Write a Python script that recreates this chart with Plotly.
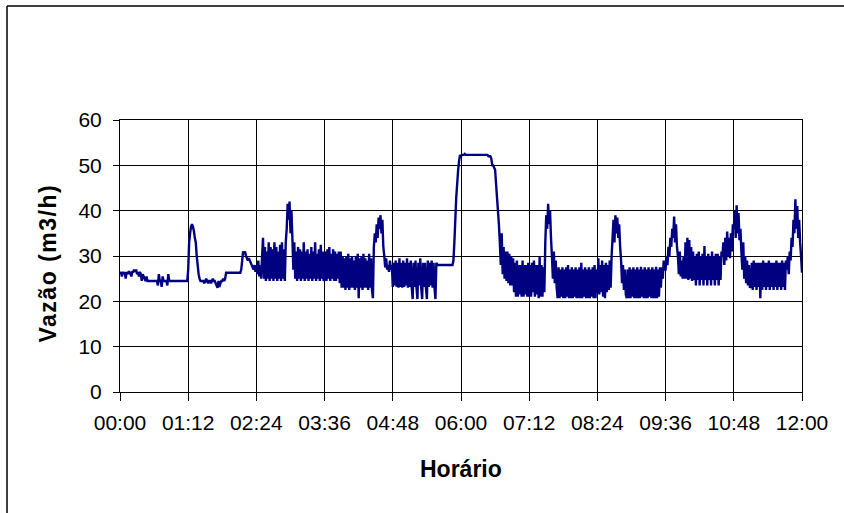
import plotly.graph_objects as go

# Flow readings, one value per minute, grouped by 72-minute windows (m3/h)
seg_0000 = [26, 26.5, 25.5, 26.5, 26, 26.5, 25, 26.5, 26, 26.5, 26.5, 26, 25.5, 26.5, 26.5,
            27, 26.5, 27, 26, 26.5, 25.5, 26.5, 26, 24.5, 26, 25.5,
            25, 24.5, 25.5, 24.5, 24.5, 24.5, 24.5, 24.5, 24.5, 24.5, 24.5, 24.5,
            24.5, 24.5, 23.5, 26, 24.5, 24.5, 23.2, 25.5, 24.5, 24.5, 24.5, 24.5, 23.5, 26, 24.5, 24.5,
            24.5, 24.5, 24.5, 24.5, 24.5, 24.5, 24.5, 24.5, 24.5, 24.5, 24.5, 24.5, 24.5, 24.5, 24.5, 24.5, 24.5, 24.5]
seg_0112 = [27, 33, 35, 36.5, 37, 36.5, 35.5, 34, 33, 30, 28, 26, 25, 24.5, 24.5, 24.5,
            24.5, 24, 24.5, 25, 24.5, 24, 24.5, 24.5, 24, 24.5, 25, 24.5, 24.5, 24, 23.5, 23, 24.5, 23.2, 24, 24.5, 24.5, 25, 24.5, 25,
            26.3, 26.3, 26.3, 26.3, 26.3, 26.3, 26.3, 26.3, 26.3, 26.3, 26.3, 26.3, 26.3, 26.3, 26.3, 26.3,
            27, 29, 31, 30.5, 31, 30, 29.5, 29, 29.5, 29, 28.5, 28, 27.5, 27, 28, 26.5]
seg_0224 = [28, 26, 29, 25.5, 28, 25, 30,
            34, 25, 32, 24.5, 31, 25, 33, 24.5, 32, 25, 31.5, 24.5, 33, 25, 32, 24.5, 31, 25, 32.5, 24.5, 33, 25, 31.5, 24.5, 33,
            36, 41.5, 38, 42, 35, 40, 34,
            27, 33, 25, 31, 24.5, 32, 25, 31.5, 24.5, 31, 25, 33, 24.5, 31, 25, 31.5, 24.5, 30.5, 25, 32,
            24.5, 31, 25, 33, 24.5, 30.5, 25, 31.5, 24.5, 32.5, 25, 31, 24.5]
seg_0336 = [25, 31, 24.5, 31.5, 25, 32, 24.5, 30.5, 25, 31.5, 24.5, 31, 24.5, 30.5, 25, 31, 24,
            31, 23, 30, 23, 29.5, 22.5, 30, 23, 30.5, 22.5, 29.5, 23, 30, 23, 29, 22.5, 30, 23, 30.5, 20.7,
            29.5, 23, 30, 22.5, 30.5, 23, 29.5, 23, 29, 22.5, 30.5, 23, 29.5, 22.5, 20.7,
            32, 35, 33, 37, 34, 38.5, 36, 39, 35, 38, 32,
            30, 27.5, 29.5, 27, 28, 26.5, 29, 27, 28]
seg_0448 = [23.2, 28.5, 23.5, 29, 23.2, 28.5, 23, 29.5, 23.2, 28.5, 23, 29, 23.2, 28.5, 23.5,
            29.5, 23, 28.5, 23.2, 29, 23, 20.5, 28.5, 23.2, 29, 23, 20.5, 28.5, 23.5, 29.5,
            23, 20.5, 28.5, 23.2, 28.5, 23, 20.5, 29, 23.2, 28.5, 23.5, 29, 23, 28.5, 23.2, 20.5, 28.5,
            28, 28, 28, 28, 28, 28, 28, 28, 28, 28, 28, 28, 28, 28, 28, 28, 28,
            29, 33, 38, 43, 46, 49, 51, 52.3]
seg_0600 = [52, 52.3, 52.3, 52.3, 52.5, 52.3, 52.3, 52.3, 52.3, 52.3, 52.3, 52.3, 52.3, 52.3, 52.3, 52.3,
            52.3, 52.3, 52.3, 52.3, 52.3, 52.3, 52.3, 52.3, 52.3, 52.3, 52.3, 52.3, 52.3, 52, 52, 52,
            51.5, 50, 50, 49.5, 49, 46, 43, 40,
            37, 33, 28, 35, 26, 32, 25, 31, 24.5, 31, 24, 30.5, 23.5, 30, 23.5, 29.5,
            22, 28.5, 21, 29, 21, 28, 21.5, 28, 21, 29, 21, 28, 21.5, 28, 21, 28.5]
seg_0712 = [21, 28, 21, 28.5, 22, 29, 21, 28, 21.5, 28, 20.7, 29.8, 21, 28, 21, 27.5, 22,
            33, 39, 36, 41.5, 37, 40, 34,
            30, 25, 31, 24, 29, 23,
            20.7, 27.5, 20.7, 27, 21, 27.5, 20.7, 27, 20.7, 27.5, 21, 28, 20.7, 27, 20.7, 27.5, 20.7, 27,
            21, 27.5, 20.7, 27, 20.7, 27.5, 20.7, 28.5, 20.7, 27, 21, 27.5, 20.7, 27, 20.7, 27.5, 20.7, 27,
            21, 27.5, 20.7, 28, 20.7, 27]
seg_0824 = [22, 29.5, 21.5, 28, 22, 29, 21, 28, 20.7, 28.5, 22, 28, 22.5, 29, 23, 30,
            34, 38, 33, 39, 35, 38.5, 34, 37, 32,
            29, 24, 28, 22.5, 27, 21.5,
            20.7, 27, 20.7, 27.5, 20.7, 27, 21, 27.5, 20.7, 27, 20.7, 27.5, 20.7, 27, 20.7, 27.6, 21, 27,
            20.7, 27.5, 20.7, 27, 20.7, 27.5, 21, 27, 20.7, 27.5, 20.7, 27, 20.7, 27.6, 20.7, 27, 21, 27.5,
            23, 27.5, 25, 29, 27]
seg_0936 = [27, 30, 28, 32, 30, 34, 32, 36, 34, 38.7, 33, 37, 32,
            30, 26, 31, 25.5, 29, 25, 30, 25,
            33, 25, 34, 24.7, 33.5, 25, 32, 24.5, 31,
            24.7, 30, 23.5, 30.5, 24.7, 31, 23.5, 30, 24.7, 30.5, 23.5, 32.2, 24.7, 30, 23.5,
            30.5, 24.7, 30, 23.5, 31, 24.7, 30, 23.5, 30.5, 24.7, 30.5, 23.5, 30, 24.7, 31,
            30, 33, 28, 34, 29, 35.4, 30, 34, 29.5, 35, 31, 37]
seg_1048 = [36, 40, 34, 41.2, 35, 39.5, 33.5, 36,
            31, 27, 33, 25, 30, 24, 29, 23.5, 28, 23,
            23.2, 28.5, 22.5, 29, 23.2, 28.5, 22.5, 28.5, 23.2, 28.5, 20.7, 28.5, 22.5, 29, 23.2, 28.5, 22.5, 28.5,
            23.2, 29, 22.5, 28.5, 23.2, 28.5, 22.5, 28.5, 23.2, 29, 22.5, 28.5, 23.2, 28.5, 22.5, 29, 23.2, 28.5,
            22.5, 29,
            27, 30, 26, 31, 29, 34, 32, 38, 35,
            42.5, 36, 41, 34, 38, 33, 30, 26.3]

segments = [seg_0000, seg_0112, seg_0224, seg_0336, seg_0448,
            seg_0600, seg_0712, seg_0824, seg_0936, seg_1048]
tick_minutes = [0, 72, 144, 216, 288, 360, 432, 504, 576, 648, 720]
tick_labels = ["00:00", "01:12", "02:24", "03:36", "04:48", "06:00",
               "07:12", "08:24", "09:36", "10:48", "12:00"]
y_ticks = [0, 10, 20, 30, 40, 50, 60]

# each window's readings are spread evenly over its own 72 minutes
minutes, flow = [], []
for k, seg in enumerate(segments):
    start = tick_minutes[k]
    n = len(seg) if k < len(segments) - 1 else len(seg) - 1
    for i, v in enumerate(seg):
        minutes.append(start + i * 72.0 / n)
        flow.append(v)

FONT = "Liberation Sans, Arial, sans-serif"

fig = go.Figure()
fig.add_trace(go.Scatter(x=minutes, y=flow, mode="lines",
                         line=dict(color="#000080", width=2.4, simplify=False),
                         showlegend=False, hoverinfo="skip"))

L, R, T, B = 120, 42, 120, 121
W, H = 844, 513
pw, ph = W - L - R, H - T - B

def px_x(p):
    return (p - L) / pw

def px_y(p):
    return (H - B - p) / ph

fig.update_layout(
    width=W, height=H,
    margin=dict(l=L, r=R, t=T, b=B),
    paper_bgcolor="white", plot_bgcolor="white",
    font=dict(family=FONT, size=21, color="black"),
    xaxis=dict(range=[0, 720], tickmode="array", tickvals=tick_minutes, ticktext=tick_labels,
               showgrid=True, gridcolor="black", gridwidth=1, zeroline=False,
               showline=True, linecolor="black", linewidth=1, mirror=True,
               ticks="outside", ticklen=8, tickcolor="black", tickwidth=1,
               ticklabelstandoff=4, tickfont=dict(family=FONT, size=21, color="black")),
    yaxis=dict(range=[0, 60], tickmode="array", tickvals=y_ticks,
               showgrid=True, gridcolor="black", gridwidth=1, zeroline=False,
               showline=True, linecolor="black", linewidth=1, mirror=True,
               ticks="outside", ticklen=6, tickcolor="black", tickwidth=1,
               ticklabelstandoff=7, tickfont=dict(family=FONT, size=21, color="black")),
    annotations=[
        dict(text="<b>Horário</b>", xref="paper", yref="paper",
             x=px_x(461), y=px_y(469), xanchor="center", yanchor="middle",
             showarrow=False, font=dict(family=FONT, size=23, color="black")),
        dict(text="<span style=\"letter-spacing:1.5px\"><b>Vazão (m3/h)</b></span>",
             xref="paper", yref="paper",
             x=px_x(47.5), y=px_y(263), xanchor="center", yanchor="middle",
             textangle=-90, showarrow=False, font=dict(family=FONT, size=23, color="black")),
    ],
    shapes=[
        dict(type="line", xref="paper", yref="paper", x0=px_x(7), x1=px_x(7),
             y0=px_y(6), y1=px_y(530), line=dict(color="black", width=1.5)),
        dict(type="line", xref="paper", yref="paper", x0=px_x(7), x1=px_x(860),
             y0=px_y(6), y1=px_y(6), line=dict(color="black", width=1.5)),
    ],
)

fig.write_html("out.html", config={"displayModeBar": False},
               post_script="document.body.style.margin='0';document.body.style.overflow='hidden';")
